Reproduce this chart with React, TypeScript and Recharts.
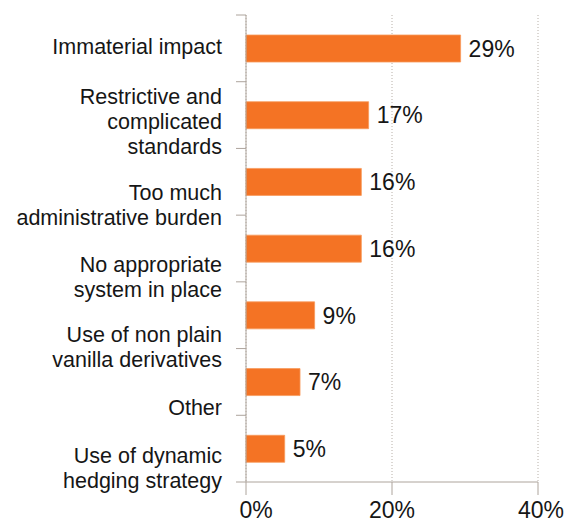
import React from 'react';
import { BarChart, Bar, XAxis, YAxis, CartesianGrid, LabelList } from 'recharts';

const categories = [
  'Immaterial impact',
  'Restrictive and\ncomplicated\nstandards',
  'Too much\nadministrative burden',
  'No appropriate\nsystem in place',
  'Use of non plain\nvanilla derivatives',
  'Other',
  'Use of dynamic\nhedging strategy',
];
const shares = [29.4, 16.8, 15.8, 15.8, 9.4, 7.4, 5.3];
const xTicks = [0, 20, 40];

const data = categories.map((name, i) => ({ name, value: shares[i] }));

// layout / style constants
const W = 580;
const H = 518;
const MARGIN = { top: 15, right: 42, bottom: 0, left: 0 };
const Y_WIDTH = 246;
const X_HEIGHT = 36;
const TICK_SIZE = 10;
const TICK_MARGIN = 14;
const LINE_H = 25;
const AXIS_COLOR = '#ADA49C';
const GRID_COLOR = '#B8B0A8';
const BAR_COLOR = '#F47324';
const FONT = '"Liberation Sans", Arial, Helvetica, sans-serif';
// vertical nudge of each category label block relative to its band centre
const LABEL_SHIFT = [-2, 6.5, 23, 28, 31.3, 25.4, 18.9];
// horizontal nudge of x tick labels
const XLABEL_DX = [10, 0, 3];

const PLOT_H = H - MARGIN.top - MARGIN.bottom - X_HEIGHT;

function CatTick(props: any) {
  const { x, y, payload, index } = props;
  const lines = String(payload.value).split('\n');
  const half = payload && typeof payload.offset === 'number' && payload.offset > 0
    ? payload.offset
    : PLOT_H / categories.length / 2;
  const shift = LABEL_SHIFT[index] ?? 0;
  const axisX = x + TICK_MARGIN + TICK_SIZE;
  const first = y + shift - ((lines.length - 1) * LINE_H) / 2;
  return (
    <g>
      <line x1={axisX - TICK_SIZE} x2={axisX} y1={y - half} y2={y - half} stroke={AXIS_COLOR} strokeWidth={1} />
      {index === categories.length - 1 && (
        <line x1={axisX - TICK_SIZE} x2={axisX} y1={y + half} y2={y + half} stroke={AXIS_COLOR} strokeWidth={1} />
      )}
      <text textAnchor="end" fontSize={21.5} fontFamily={FONT} fill="#161616">
        {lines.map((l, i) => (
          <tspan key={i} x={x} y={first + i * LINE_H} dy="0.355em">
            {l}
          </tspan>
        ))}
      </text>
    </g>
  );
}

function XTick(props: any) {
  const { x, y, payload, index } = props;
  return (
    <text x={x + (XLABEL_DX[index] ?? 0)} y={y} dy="0.71em" textAnchor="middle" fontSize={23} fontFamily={FONT} fill="#161616">
      {`${payload.value}%`}
    </text>
  );
}

export default function App() {
  return (
    <div style={{ position: 'absolute', left: 0, top: 0, width: W, height: H, background: '#fff' }}>
      <BarChart width={W} height={H} data={data} layout="vertical" margin={MARGIN}>
        <CartesianGrid horizontal={false} vertical={true} stroke={GRID_COLOR} strokeDasharray="1 2" />
        <XAxis
          type="number"
          domain={[0, 40]}
          ticks={xTicks}
          height={X_HEIGHT}
          axisLine={{ stroke: AXIS_COLOR }}
          tickLine={{ stroke: AXIS_COLOR }}
          tickSize={13}
          tickMargin={7}
          tick={<XTick />}
          interval={0}
        />
        <YAxis
          type="category"
          dataKey="name"
          width={Y_WIDTH}
          axisLine={{ stroke: AXIS_COLOR }}
          tickLine={false}
          tickSize={TICK_SIZE}
          tickMargin={TICK_MARGIN}
          tick={<CatTick />}
          interval={0}
        />
        <Bar dataKey="value" fill={BAR_COLOR} stroke="#F89A5C" strokeWidth={0.8} barSize={27} isAnimationActive={false}>
          <LabelList
            dataKey="value"
            position="right"
            offset={8}
            formatter={(v: any) => `${Math.round(Number(v))}%`}
            style={{ fontSize: 23, fontFamily: FONT, fill: '#161616' }}
          />
        </Bar>
      </BarChart>
    </div>
  );
}
